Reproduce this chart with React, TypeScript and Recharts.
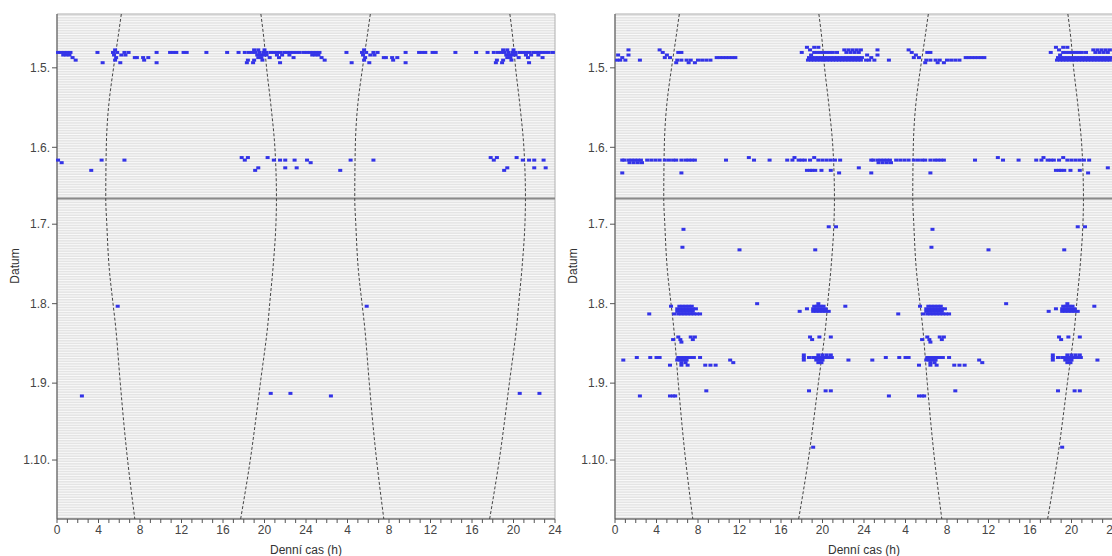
import React from 'react'
import { ScatterChart, Scatter, XAxis, YAxis, CartesianGrid, ReferenceLine, ReferenceArea } from 'recharts'

// y axis: day of year (reversed), month starts labelled as d.m
const MONTH_TICKS = [121, 152, 182, 213, 244, 274]
const MONTH_LABELS = ['1.5', '1.6', '1.7', '1.8', '1.9', '1.10']
const SOLSTICE_DAY = 172

// x axis: double plotted day, 0-48 h
const HOUR_LABELS = ['0', '4', '8', '12', '16', '20', '24', '4', '8', '12', '16', '20', '24']

// sunrise / sunset (h)
const SUN_DAYS = [100, 110, 121, 135, 152, 172, 182, 200, 213, 220, 244, 260, 272, 297]
const SUNRISE = [6.2, 5.85, 5.45, 5.0, 4.75, 4.7, 4.8, 5.05, 5.4, 5.6, 6.1, 6.45, 6.75, 7.5]
const SUNSET = [19.65, 19.95, 20.2, 20.6, 21.0, 21.15, 21.1, 20.8, 20.5, 20.35, 19.6, 19.1, 18.7, 17.7]

// activity records, left panel
const LEFT_DAYS = [114, 115, 116, 117, 118, 119, 156, 157, 158, 160, 161, 214, 248, 249]
const LEFT_HOURS = [
  [5.6, 19.0, 19.4, 20.0],
  [0.1, 0.4, 0.7, 1.0, 1.3, 3.9, 5.4, 5.8, 6.5, 6.9, 9.6, 10.9, 11.2, 11.5, 12.2, 12.5, 14.4, 16.4, 17.5, 18.1, 18.5, 18.8, 19.1, 19.5, 19.9, 20.2, 20.6, 20.9, 21.2, 21.5, 21.9, 22.2, 22.5, 22.8, 23.1, 23.4, 23.8],
  [0.6, 0.9, 1.2, 5.5, 6.2, 6.6, 19.3, 19.6, 19.9, 20.2, 21.2, 21.7, 22.4],
  [1.5, 5.7, 7.5, 7.7, 8.3, 8.8, 19.4, 19.7, 20.5, 21.4, 22.8],
  [1.8, 5.6, 8.4, 18.4, 19.0, 19.8],
  [4.4, 6.1, 9.6, 18.3, 18.9, 21.5],
  [17.8, 18.4, 20.3],
  [0.1, 4.3, 6.5, 18.1, 20.9, 21.5, 22.0, 22.9],
  [0.45],
  [19.4, 22.0, 23.1],
  [3.3, 19.1],
  [5.85],
  [20.6, 22.5],
  [2.4],
]

// activity records, right panel
const RIGHT_DAYS = [113, 114, 115, 116, 117, 118, 119, 156, 157, 158, 160, 161, 162, 183, 184, 191, 192, 213, 214, 215, 216, 217, 226, 227, 228, 233, 234, 235, 236, 237, 247, 249, 269]
const RIGHT_HOURS = [
  [18.5, 19.2, 19.6],
  [1.3, 4.3, 18.8, 22.1, 22.5, 22.9, 23.3, 23.7],
  [4.6, 6.1, 6.4, 18.0, 19.2, 19.5, 19.8, 20.1, 20.4, 20.7, 21.0, 21.4, 22.3, 22.7, 23.1, 23.5],
  [0.3, 1.3, 5.0, 18.9],
  [0.7, 4.8, 5.3, 9.8, 10.1, 10.4, 10.7, 11.0, 11.3, 11.6, 18.7, 19.0, 19.3, 19.6, 19.9, 20.2, 20.5, 20.8, 21.1, 21.4, 21.7, 22.0, 22.3, 22.6, 22.9, 23.2, 23.5, 23.8],
  [0.2, 0.5, 1.0, 2.4, 6.0, 6.4, 6.9, 7.3, 8.0, 8.4, 8.8, 9.2, 18.6, 18.9, 19.2, 19.5, 19.8, 20.1, 20.4, 20.7, 21.0, 21.3, 21.6, 21.9, 22.2, 22.5, 22.8, 23.1, 23.4, 23.7],
  [5.9, 7.1, 7.7],
  [12.9, 17.3, 19.2],
  [0.7, 0.9, 1.3, 1.6, 1.9, 2.2, 2.5, 3.1, 3.5, 3.9, 4.3, 4.8, 5.2, 5.6, 5.9, 6.4, 6.8, 7.1, 7.4, 7.7, 10.7, 13.4, 14.9, 16.6, 17.1, 17.7, 18.0, 18.3, 18.8, 19.6, 20.0, 20.4, 20.8, 21.2, 21.7],
  [1.4, 1.8, 2.2, 2.6],
  [23.5],
  [18.5, 18.8, 19.0, 19.3, 19.9, 20.8],
  [0.7, 6.4, 21.6],
  [20.6, 21.3],
  [6.6],
  [6.5],
  [12.0, 19.3],
  [13.7, 19.6],
  [5.4, 6.2, 6.5, 6.8, 7.1, 7.4, 19.2, 19.5, 19.8, 20.1, 22.2],
  [6.0, 6.3, 6.6, 6.9, 7.2, 7.5, 7.8, 18.5, 19.1, 19.4, 19.7, 20.0, 20.3],
  [6.0, 6.3, 6.6, 6.9, 7.2, 7.5, 17.8, 19.1, 19.4, 19.7, 20.0, 20.3, 20.6],
  [3.3, 5.7, 6.1, 6.4, 6.7, 7.0, 7.3, 7.6, 7.9, 8.2],
  [6.1, 7.3, 7.7, 18.8, 19.7, 20.8],
  [5.6, 6.3, 7.5, 19.0],
  [6.4],
  [18.2, 19.6, 20.0, 20.4, 20.8],
  [2.1, 3.4, 4.0, 4.3, 6.1, 6.4, 6.7, 7.0, 7.3, 7.6, 8.2, 18.2, 18.7, 19.1, 19.4, 19.7, 20.0, 20.3, 20.6, 20.9],
  [0.8, 6.0, 6.3, 6.6, 6.9, 11.1, 18.2, 19.4, 19.7, 20.0, 22.5],
  [6.4, 6.8, 11.4, 19.6, 19.9],
  [5.3, 6.4, 7.0, 8.7, 9.2, 9.7],
  [8.8, 18.7, 20.3, 20.8],
  [2.4, 5.3, 5.6, 5.8],
  [19.1],
]

const DAY_LINES = Array.from({ length: 197 }, (_, i) => 100 + i)
const HOUR_TICKS = Array.from({ length: 49 }, (_, i) => i)

// each day is drawn twice: in its own 0-24 h half and in the 24-48 h half
const doublePlot = (days: number[], hours: number[][]) => {
  const pts: { x: number; y: number }[] = []
  days.forEach((d, i) => {
    hours[i].forEach((h) => {
      pts.push({ x: h, y: d })
      pts.push({ x: h + 24, y: d })
    })
  })
  return pts
}

const sunLine = (hours: number[], offset: number) =>
  SUN_DAYS.map((d, i) => ({ x: hours[i] + offset, y: d }))

const SUN_LINES = [sunLine(SUNRISE, 0), sunLine(SUNSET, 0), sunLine(SUNRISE, 24), sunLine(SUNSET, 24)]

const Marker = (p: any) => (
  <rect x={p.cx - 2} y={p.cy - 1.5} width={4} height={3} fill="#3434e8" />
)

const font = '"Liberation Sans", Arial, sans-serif'

function Panel({ points, left }: { points: { x: number; y: number }[]; left: number }) {
  return (
    <div style={{ position: 'absolute', left, top: 0, width: 572, height: 556 }}>
      <ScatterChart width={572} height={556} margin={{ top: 14, right: 17, bottom: 0, left: 0 }}>
        <CartesianGrid
          vertical={false}
          horizontalValues={DAY_LINES}
          stroke="#fafafa"
          strokeWidth={1}
          fill="#e4e4e4"
          fillOpacity={1}
        />
        <XAxis
          type="number"
          dataKey="x"
          domain={[0, 48]}
          ticks={HOUR_TICKS}
          interval={0}
          tickFormatter={(v: number) => (v % 4 === 0 ? HOUR_LABELS[v / 4] : '')}
          height={37}
          tickSize={4}
          tickMargin={2}
          stroke="#555"
          tick={{ fill: '#444', fontSize: 12, fontFamily: font }}
        />
        <YAxis
          type="number"
          dataKey="y"
          domain={[100, 297]}
          reversed
          ticks={MONTH_TICKS}
          interval={0}
          tickFormatter={(v: number) => MONTH_LABELS[MONTH_TICKS.indexOf(v)] + '.'}
          width={57}
          tickSize={5}
          tickMargin={2}
          stroke="#555"
          tick={{ fill: '#444', fontSize: 12, fontFamily: font }}
        />
        <ReferenceLine y={SOLSTICE_DAY} stroke="#8a8a8a" strokeWidth={2} />
        {SUN_LINES.map((line, i) => (
          <Scatter
            key={i}
            data={line}
            line={{ stroke: '#444', strokeWidth: 1, strokeDasharray: '3 2' }}
            lineType="joint"
            lineJointType="monotoneY"
            shape={() => <g />}
            isAnimationActive={false}
          />
        ))}
        <Scatter data={points} shape={Marker} isAnimationActive={false} />
        <ReferenceArea x1={0} x2={48} y1={100} y2={297} fill="none" stroke="#b0b0b0" ifOverflow="visible" />
      </ScatterChart>
      <div
        style={{
          position: 'absolute',
          left: 15,
          top: 266,
          transform: 'translate(-50%, -50%) rotate(-90deg)',
          fontFamily: font,
          fontSize: 12,
          color: '#333',
          whiteSpace: 'nowrap',
        }}
      >
        Datum
      </div>
      <div
        style={{
          position: 'absolute',
          left: 57,
          width: 498,
          top: 543,
          textAlign: 'center',
          fontFamily: font,
          fontSize: 12,
          color: '#333',
        }}
      >
        Denní cas (h)
      </div>
    </div>
  )
}

export default function App() {
  return (
    <div
      style={{
        position: 'absolute',
        left: 0,
        top: 0,
        width: 1112,
        height: 556,
        overflow: 'hidden',
        background: '#fff',
      }}
    >
      <Panel points={doublePlot(RIGHT_DAYS, RIGHT_HOURS)} left={558} />
      <Panel points={doublePlot(LEFT_DAYS, LEFT_HOURS)} left={0} />
    </div>
  )
}
